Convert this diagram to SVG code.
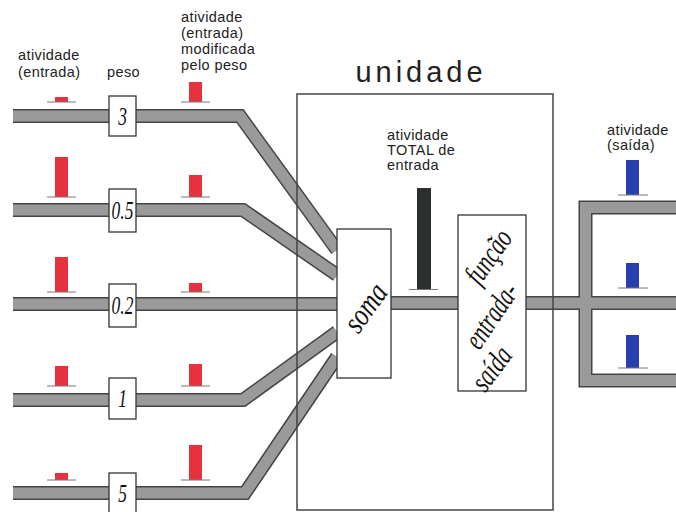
<svg xmlns="http://www.w3.org/2000/svg" width="676" height="512" viewBox="0 0 676 512">
<style>
.lbl{font-family:"Liberation Sans","DejaVu Sans",sans-serif;font-size:14.5px;fill:#222;letter-spacing:0.4px}
.wt{font-family:"Liberation Serif",serif;font-style:italic;font-size:25px;fill:#111}
.big{font-family:"Liberation Serif",serif;font-style:italic;font-size:29px;fill:#111}
.box{fill:#fff;stroke:#333;stroke-width:1.3}
.lineo{fill:none;stroke:#444;stroke-width:14;stroke-linejoin:miter}
.linei{fill:none;stroke:#9a9a9a;stroke-width:11;stroke-linejoin:miter}
.red{fill:#e5323c}
.blue{fill:#2a3fae}
.base{stroke:#777;stroke-width:1}
</style>
<rect width="676" height="512" fill="#fff"/>
<g id="connectors">
<g class="lineo">
<polyline points="13,116 240,116 337,250"/>
<polyline points="13,210 243,210 337,275"/>
<polyline points="13,304 337,304"/>
<polyline points="13,400 243,400 337,332"/>
<polyline points="13,493 245,493 337,357"/>
<polyline points="391,303 458,303"/>
<polyline points="526,303 690,303"/>
<polyline points="690,207.5 585.5,207.5 585.5,380.5 690,380.5"/>
</g>
<g class="linei">
<polyline points="13,116 240,116 337,250"/>
<polyline points="13,210 243,210 337,275"/>
<polyline points="13,304 337,304"/>
<polyline points="13,400 243,400 337,332"/>
<polyline points="13,493 245,493 337,357"/>
<polyline points="391,303 458,303"/>
<polyline points="526,303 690,303"/>
<polyline points="690,207.5 585.5,207.5 585.5,380.5 690,380.5"/>
</g>
</g>
<g id="unidade">
<rect x="297" y="94" width="256" height="416" fill="none" stroke="#444" stroke-width="1.5"/>
<text x="421" y="82" text-anchor="middle" font-family="Liberation Sans, DejaVu Sans, sans-serif" font-size="29" letter-spacing="4" fill="#222">unidade</text>
</g>
<g id="labels">
<text class="lbl" x="18" y="60">atividade</text>
<text class="lbl" x="18" y="77">(entrada)</text>
<text class="lbl" x="107" y="77">peso</text>
<text class="lbl" x="181" y="22">atividade</text>
<text class="lbl" x="181" y="38">(entrada)</text>
<text class="lbl" x="181" y="54">modificada</text>
<text class="lbl" x="181" y="70">pelo  peso</text>
<text class="lbl" x="387" y="140">atividade</text>
<text class="lbl" x="387" y="155">TOTAL de</text>
<text class="lbl" x="387" y="170">entrada</text>
<text class="lbl" x="607" y="135">atividade</text>
<text class="lbl" x="607" y="150">(saída)</text>
</g>
<g id="input-bars">
<rect class="red" x="55" y="97" width="13" height="5"/><line class="base" x1="47" y1="102" x2="76" y2="102"/>
<rect class="red" x="189" y="82" width="13" height="20"/><line class="base" x1="181" y1="102" x2="210" y2="102"/>
<rect class="red" x="55" y="157" width="13" height="40"/><line class="base" x1="47" y1="197" x2="76" y2="197"/>
<rect class="red" x="189" y="175" width="13" height="22"/><line class="base" x1="181" y1="197" x2="210" y2="197"/>
<rect class="red" x="55" y="257" width="13" height="35"/><line class="base" x1="47" y1="292" x2="76" y2="292"/>
<rect class="red" x="189" y="283" width="13" height="9"/><line class="base" x1="181" y1="292" x2="210" y2="292"/>
<rect class="red" x="55" y="366" width="13" height="20"/><line class="base" x1="47" y1="386" x2="76" y2="386"/>
<rect class="red" x="189" y="364" width="13" height="22"/><line class="base" x1="181" y1="386" x2="210" y2="386"/>
<rect class="red" x="55" y="473" width="13" height="7"/><line class="base" x1="47" y1="480" x2="76" y2="480"/>
<rect class="red" x="189" y="445" width="13" height="35"/><line class="base" x1="181" y1="480" x2="210" y2="480"/>
</g>
<g id="w1"><rect class="box" x="109" y="96" width="27" height="40"/><text class="wt" text-anchor="middle" transform="translate(122.5,125) scale(0.7,1)">3</text></g>
<g id="w2"><rect class="box" x="109" y="189" width="27" height="43"/><text class="wt" text-anchor="middle" transform="translate(122.5,219) scale(0.7,1)">0.5</text></g>
<g id="w3"><rect class="box" x="109" y="284" width="27" height="43"/><text class="wt" text-anchor="middle" transform="translate(122.5,314) scale(0.7,1)">0.2</text></g>
<g id="w4"><rect class="box" x="109" y="378" width="27" height="41"/><text class="wt" text-anchor="middle" transform="translate(122.5,407) scale(0.7,1)">1</text></g>
<g id="w5"><rect class="box" x="109" y="473" width="27" height="42"/><text class="wt" text-anchor="middle" transform="translate(122.5,502) scale(0.7,1)">5</text></g>
<g id="total-bar">
<rect x="417" y="188" width="14" height="101" fill="#2b2f2d"/>
<line class="base" x1="409" y1="289.5" x2="438" y2="289.5"/>
</g>
<g id="soma">
<rect class="box" x="337" y="229" width="54" height="149"/>
<text class="big" text-anchor="middle" dy="0.3em" transform="translate(366,308) rotate(-54) scale(0.85,1.1)">soma</text>
</g>
<g id="funcao">
<rect class="box" x="458" y="215" width="68" height="176"/>
<text class="big" text-anchor="middle" dy="0.3em" transform="translate(489,257) rotate(-55) scale(0.75,1.05)">função</text>
<text class="big" text-anchor="middle" dy="0.3em" transform="translate(492,316) rotate(-56) scale(0.72,1.05)">entrada-</text>
<text class="big" text-anchor="middle" dy="0.3em" transform="translate(492,369) rotate(-53) scale(0.75,1.05)">saída</text>
</g>
<g id="output-bars">
<rect class="blue" x="626" y="160" width="13" height="35"/><line class="base" x1="618" y1="195" x2="648" y2="195"/>
<rect class="blue" x="626" y="263" width="13" height="25"/><line class="base" x1="618" y1="288" x2="648" y2="288"/>
<rect class="blue" x="626" y="335" width="13" height="33"/><line class="base" x1="618" y1="368" x2="648" y2="368"/>
</g>
</svg>
